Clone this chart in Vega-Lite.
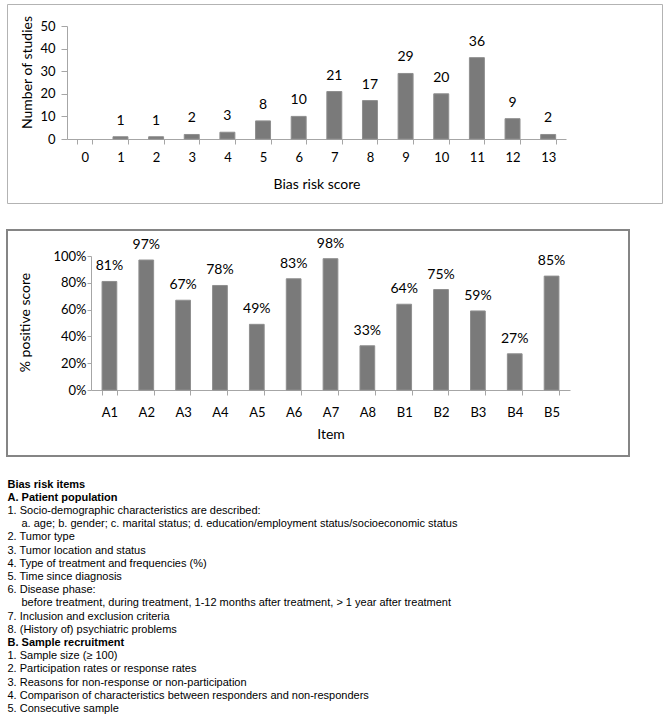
{
  "$schema": "https://vega.github.io/schema/vega-lite/v6.json",
  "padding": {"left": 6, "top": 3, "right": 0, "bottom": 0},
  "spacing": 21,
  "background": "white",
  "config": {
    "font": "Lato",
    "view": {"stroke": null},
    "axis": {
      "grid": false,
      "domainColor": "#a6a6a6",
      "tickColor": "#a6a6a6",
      "labelColor": "#000000",
      "titleColor": "#000000",
      "labelFont": "Lato",
      "titleFont": "Lato",
      "labelFontSize": 13,
      "titleFontSize": 14,
      "titleFontWeight": "normal"
    }
  },
  "datasets": {
    "scores": [
      {"score": 0, "studies": 0},
      {"score": 1, "studies": 1},
      {"score": 2, "studies": 1},
      {"score": 3, "studies": 2},
      {"score": 4, "studies": 3},
      {"score": 5, "studies": 8},
      {"score": 6, "studies": 10},
      {"score": 7, "studies": 21},
      {"score": 8, "studies": 17},
      {"score": 9, "studies": 29},
      {"score": 10, "studies": 20},
      {"score": 11, "studies": 36},
      {"score": 12, "studies": 9},
      {"score": 13, "studies": 2}
    ],
    "items": [
      {"item": "A1", "pct": 0.81},
      {"item": "A2", "pct": 0.97},
      {"item": "A3", "pct": 0.67},
      {"item": "A4", "pct": 0.78},
      {"item": "A5", "pct": 0.49},
      {"item": "A6", "pct": 0.83},
      {"item": "A7", "pct": 0.98},
      {"item": "A8", "pct": 0.33},
      {"item": "B1", "pct": 0.64},
      {"item": "B2", "pct": 0.75},
      {"item": "B3", "pct": 0.59},
      {"item": "B4", "pct": 0.27},
      {"item": "B5", "pct": 0.85}
    ],
    "notes": [
      {"n": 1, "line": "Bias risk items", "style": "bold"},
      {"n": 2, "line": "A. Patient population", "style": "bold"},
      {"n": 3, "line": "1. Socio-demographic characteristics are described:", "style": "normal"},
      {"n": 4, "line": "a. age; b. gender; c. marital status; d. education/employment status/socioeconomic status", "style": "indent"},
      {"n": 5, "line": "2. Tumor type", "style": "normal"},
      {"n": 6, "line": "3. Tumor location and status", "style": "normal"},
      {"n": 7, "line": "4. Type of treatment and frequencies (%)", "style": "normal"},
      {"n": 8, "line": "5. Time since diagnosis", "style": "normal"},
      {"n": 9, "line": "6. Disease phase:", "style": "normal"},
      {"n": 10, "line": "before treatment, during treatment, 1-12 months after treatment, > 1 year after treatment", "style": "indent"},
      {"n": 11, "line": "7. Inclusion and exclusion criteria", "style": "normal"},
      {"n": 12, "line": "8. (History of) psychiatric problems", "style": "normal"},
      {"n": 13, "line": "B. Sample recruitment", "style": "bold"},
      {"n": 14, "line": "1. Sample size (\u2265 100)", "style": "normal"},
      {"n": 15, "line": "2. Participation rates or response rates", "style": "normal"},
      {"n": 16, "line": "3. Reasons for non-response or non-participation", "style": "normal"},
      {"n": 17, "line": "4. Comparison of characteristics between responders and  non-responders", "style": "normal"},
      {"n": 18, "line": "5. Consecutive sample", "style": "normal"}
    ]
  },
  "vconcat": [
    {
      "spacing": 25,
      "vconcat": [
        {
          "width": 655,
          "height": 199,
          "view": {"stroke": "#b3b3b3", "strokeWidth": 1},
          "data": {"name": "scores"},
          "encoding": {
            "x": {
              "field": "score",
              "type": "ordinal",
              "scale": {"domain": [0, 1, 2, 3, 4, 5, 6, 7, 8, 9, 10, 11, 12, 13], "range": [60, 559], "paddingInner": 0.58, "paddingOuter": 0.29},
              "axis": {
                "title": "Bias risk score",
                "orient": "bottom",
                "offset": -64,
                "tickBand": "extent",
                "labelAngle": 0,
                "tickSize": 5,
                "labelPadding": 7,
                "titleY": 38,
                "titleBaseline": "top"
              }
            },
            "y": {
              "field": "studies",
              "type": "quantitative",
              "scale": {"domain": [0, 50], "range": [135, 22], "nice": false},
              "axis": {
                "title": "Number of studies",
                "orient": "left",
                "offset": -60,
                "values": [0, 10, 20, 30, 40, 50],
                "tickSize": 6,
                "labelPadding": 6,
                "titleX": -40,
                "titleY": 68,
                "titleAlign": "center",
                "titleBaseline": "middle",
                "titleAngle": -90
              }
            }
          },
          "transform": [{"filter": "datum.studies > 0"}],
          "layer": [
            {"mark": {"type": "bar", "color": "#7a7a7a", "stroke": "#8f8f8f", "strokeWidth": 1}},
            {
              "mark": {"type": "text", "baseline": "alphabetic", "dy": -12, "fontSize": 14, "color": "#000000", "font": "Lato"},
              "encoding": {"text": {"field": "studies", "type": "quantitative"}}
            }
          ]
        },
        {
          "width": 622,
          "height": 226,
          "view": {"stroke": "#858585", "strokeWidth": 2},
          "data": {"name": "items"},
          "encoding": {
            "x": {
              "field": "item",
              "type": "ordinal",
              "sort": null,
              "scale": {"range": [84, 563], "paddingInner": 0.6, "paddingOuter": 0.3},
              "axis": {
                "title": "Item",
                "orient": "bottom",
                "offset": -66,
                "tickBand": "extent",
                "labelAngle": 0,
                "tickSize": 5,
                "labelPadding": 11,
                "titleY": 37,
                "titleBaseline": "top"
              }
            },
            "y": {
              "field": "pct",
              "type": "quantitative",
              "scale": {"domain": [0, 1], "range": [160, 26], "nice": false},
              "axis": {
                "title": "% positive score",
                "orient": "left",
                "offset": -84,
                "values": [0, 0.2, 0.4, 0.6, 0.8, 1],
                "format": ".0%",
                "tickSize": 4,
                "labelPadding": 1,
                "titleX": -66,
                "titleY": 92,
                "titleAlign": "center",
                "titleBaseline": "middle",
                "titleAngle": -90
              }
            }
          },
          "layer": [
            {"mark": {"type": "bar", "color": "#7a7a7a", "stroke": "#8f8f8f", "strokeWidth": 1}},
            {
              "mark": {"type": "text", "baseline": "alphabetic", "dy": -11, "fontSize": 14, "color": "#000000", "font": "Lato"},
              "encoding": {"text": {"field": "pct", "type": "quantitative", "format": ".0%"}}
            }
          ]
        }
      ]
    },
    {
      "width": 1,
      "height": 237.6,
      "data": {"name": "notes"},
      "encoding": {
        "y": {"field": "n", "type": "ordinal", "axis": null, "scale": {"paddingInner": 0, "paddingOuter": 0}},
        "text": {"field": "line", "type": "nominal"}
      },
      "layer": [
        {
          "transform": [{"filter": "datum.style == 'normal'"}],
          "mark": {"type": "text", "align": "left", "baseline": "alphabetic", "font": "Liberation Sans", "fontSize": 11, "color": "#000000"}
        },
        {
          "transform": [{"filter": "datum.style == 'indent'"}],
          "mark": {"type": "text", "align": "left", "baseline": "alphabetic", "dx": 14, "font": "Liberation Sans", "fontSize": 11, "color": "#000000"}
        },
        {
          "transform": [{"filter": "datum.style == 'bold'"}],
          "mark": {"type": "text", "align": "left", "baseline": "alphabetic", "font": "Liberation Sans", "fontSize": 11, "fontWeight": "bold", "color": "#000000"}
        }
      ]
    }
  ]
}
